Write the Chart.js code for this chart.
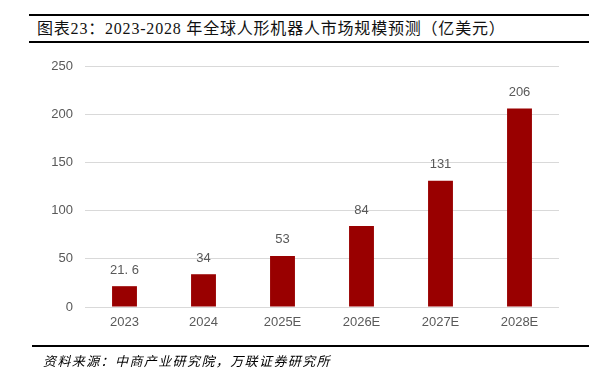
<!DOCTYPE html>
<html>
<head>
<meta charset="utf-8">
<script src="https://cdn.jsdelivr.net/npm/chart.js@4.4.1/dist/chart.umd.min.js"></script>
<style>
  html, body { margin: 0; padding: 0; background: #fff; }
  body { width: 589px; height: 377px; position: relative; overflow: hidden; }
  #wrap { position: absolute; left: 0; top: 0; width: 589px; height: 377px; }
  .rule { position: absolute; left: 29px; right: 0; height: 2px; background: #000; }
  #title { position: absolute; left: 37px; top: 19px; font-size: 16px; line-height: 20px; color: #111;
           font-family: "Liberation Serif", "Noto Sans CJK SC", serif; white-space: nowrap; letter-spacing: 0.8px; }
  #source { position: absolute; left: 43px; top: 352px; font-size: 13px; line-height: 18px; color: #000;
            font-family: "Noto Sans CJK SC", sans-serif; font-style: italic; letter-spacing: 1.4px; white-space: nowrap; }
</style>
</head>
<body>
<div class="rule" style="top:14px"></div>
<div id="title">图表23：2023-2028 年全球人形机器人市场规模预测（亿美元）</div>
<div class="rule" style="top:41px"></div>
<div id="wrap"><canvas id="c" width="589" height="377"></canvas></div>
<div class="rule" style="top:345px; left:32px"></div>
<div id="source">资料来源：中商产业研究院，万联证券研究所</div>
<script>
const categories = ["2023", "2024", "2025E", "2026E", "2027E", "2028E"];
const marketSize = [21.6, 34, 53, 84, 131, 206];
const yTicks = [0, 50, 100, 150, 200, 250];

const barLabels = {
  id: 'barLabels',
  afterDatasetsDraw(chart) {
    const ctx = chart.ctx;
    const meta = chart.getDatasetMeta(0);
    ctx.save();
    ctx.font = '13px "Liberation Sans", "Noto Sans", sans-serif';
    ctx.fillStyle = '#595959';
    ctx.textAlign = 'center';
    ctx.textBaseline = 'middle';
    meta.data.forEach((bar, i) => {
      const v = chart.data.datasets[0].data[i];
      const txt = Number.isInteger(v) ? String(v) : String(v).replace('.', '. ');
      ctx.fillText(txt, bar.x, bar.y - 16);
    });
    ctx.restore();
  }
};

new Chart(document.getElementById('c'), {
  type: 'bar',
  data: {
    labels: categories,
    datasets: [{
      data: marketSize,
      backgroundColor: '#990000',
      borderWidth: 0,
      barPercentage: 0.63,
      categoryPercentage: 0.5
    }]
  },
  options: {
    responsive: false,
    animation: false,
    layout: { padding: { top: 66, right: 30, bottom: 0, left: 0 } },
    plugins: { legend: { display: false }, tooltip: { enabled: false } },
    scales: {
      x: {
        grid: { display: false, drawTicks: false },
        border: { display: false },
        ticks: { color: '#595959', font: { family: '"Liberation Sans", "Noto Sans", sans-serif', size: 13 }, padding: 8 },
        afterFit(s) { s.height = 70; }
      },
      y: {
        min: 0, max: 250,
        afterBuildTicks(s) { s.ticks = yTicks.map(v => ({ value: v })); },
        grid: { color: '#d9d9d9', lineWidth: 1, drawTicks: false },
        border: { display: false },
        ticks: { color: '#595959', font: { family: '"Liberation Sans", "Noto Sans", sans-serif', size: 13 }, padding: 12 },
        afterFit(s) { s.width = 85; }
      }
    }
  },
  plugins: [barLabels]
});
</script>
</body>
</html>
